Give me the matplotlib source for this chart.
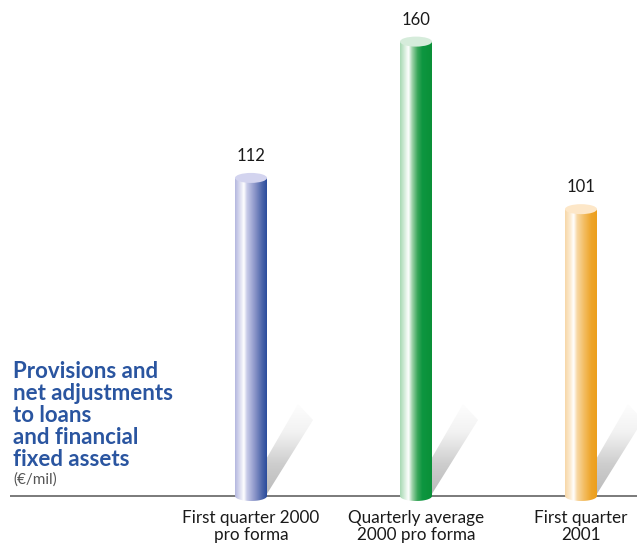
import numpy as np
import matplotlib
matplotlib.use("Agg")
import matplotlib.pyplot as plt
from matplotlib.colors import LinearSegmentedColormap
from matplotlib.patches import Ellipse, Polygon, PathPatch
from matplotlib.path import Path

plt.rcParams['font.family'] = ['Lato', 'DejaVu Sans']

categories = ["First quarter 2000\npro forma",
              "Quarterly average\n2000 pro forma",
              "First quarter\n2001"]
values = [112, 160, 101]
value_labels = ["112", "160", "101"]

# side gradients (left -> right) and cap colours for each cylinder
side_stops = [
    [(0.0, "#b4b7df"), (0.18, "#e4e5f4"), (0.27, "#ffffff"), (0.36, "#c9cce9"),
     (0.6, "#8c96c9"), (0.82, "#4d66aa"), (1.0, "#23479a")],
    [(0.0, "#a6d8b2"), (0.18, "#e2f2e5"), (0.27, "#ffffff"), (0.38, "#9fd3aa"),
     (0.55, "#3aa65a"), (0.7, "#0d9640"), (1.0, "#0a9038")],
    [(0.0, "#f7d7a6"), (0.18, "#fdeed6"), (0.27, "#ffffff"), (0.38, "#f8d8a4"),
     (0.6, "#f3bd62"), (0.82, "#eea52a"), (1.0, "#ec9f1c")],
]
cap_colors = ["#d3d4ef", "#d6ecdb", "#fde7c8"]

fig = plt.figure(figsize=(6.37, 5.44), dpi=100)
ax = fig.add_axes([0, 0, 1, 1])

# pixel layout helpers: bars 165 px apart, 2.84 px per unit, baseline at y=496 px
PX_X = 165.0
PX_Y = 2.84
x0_px, base_px = 251.0, 496.0
ax.set_xlim(-x0_px / PX_X, (637 - x0_px) / PX_X)
ax.set_ylim((base_px - 544) / PX_Y, base_px / PX_Y)
ax.axis("off")

half_w = 16 / PX_X
ell_h = 10 / PX_Y

# baseline
ax.plot([(10 - x0_px) / PX_X, (637 - x0_px) / PX_X], [0, 0],
        color="#7a7a7a", lw=1.4, zorder=2, solid_capstyle="butt")

grad = np.linspace(0, 1, 256).reshape(1, -1)
scmap = LinearSegmentedColormap.from_list("sh", ["#ffffff", "#f2f2f2", "#cdcdcd", "#bababa"])

for i, (v, stops) in enumerate(zip(values, side_stops)):
    cx = i

    # cast shadow running up and to the right, fading with height
    sx = lambda p: cx + p / PX_X
    sy = lambda p: (base_px - p) / PX_Y
    shadow = [(sx(10), sy(468)), (sx(14), sy(497)), (sx(62), sy(420)), (sx(47), sy(404))]
    spoly = Polygon(shadow, closed=True, facecolor="none", edgecolor="none")
    ax.add_patch(spoly)
    shade = np.linspace(0, 1, 128).reshape(-1, 1)
    sim = ax.imshow(shade, cmap=scmap, aspect="auto", origin="upper",
                    extent=[sx(8), sx(64), sy(497), sy(400)], zorder=1,
                    interpolation="bilinear")
    sim.set_clip_path(spoly)

    # cylinder body: rectangle with rounded bottom
    t = np.linspace(np.pi, 2 * np.pi, 40)
    bottom = np.column_stack([cx + half_w * np.cos(t), (ell_h / 2) * np.sin(t)])
    verts = np.vstack([bottom, [[cx + half_w, v], [cx - half_w, v], bottom[0]]])
    body = PathPatch(Path(verts, closed=True), facecolor="none", edgecolor="none")
    ax.add_patch(body)
    cmap = LinearSegmentedColormap.from_list("c%d" % i, stops)
    im = ax.imshow(grad, cmap=cmap, aspect="auto",
                   extent=[cx - half_w, cx + half_w, -ell_h, v], zorder=3,
                   interpolation="bilinear")
    im.set_clip_path(body)

    # top cap
    ax.add_patch(Ellipse((cx, v), 2 * half_w, ell_h, facecolor=cap_colors[i],
                         edgecolor="none", zorder=4))

    ax.text(cx, v + 14 / PX_Y, value_labels[i], ha="center", va="bottom",
            fontsize=12, color="#1a1a1a", zorder=5)

    ax.text(cx, -14 / PX_Y, categories[i], ha="center", va="top",
            fontsize=12.3, color="#1a1a1a", linespacing=1.05)

# chart title
ax.text((13 - x0_px) / PX_X, (base_px - 361) / PX_Y,
        "Provisions and\nnet adjustments\nto loans\nand financial\nfixed assets",
        ha="left", va="top", fontsize=16, fontweight="bold", color="#2a55a0",
        linespacing=1.06)
ax.text((13 - x0_px) / PX_X, (base_px - 472) / PX_Y, "(\u20ac/mil)",
        ha="left", va="top", fontsize=11, color="#555555")

fig.savefig("out.png", dpi=100)
